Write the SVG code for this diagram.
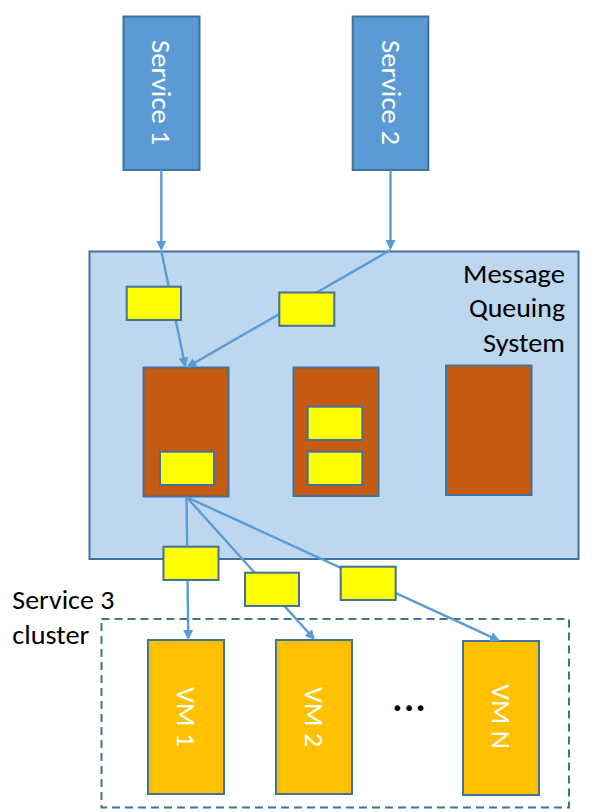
<svg xmlns="http://www.w3.org/2000/svg" width="598" height="812" viewBox="0 0 598 812">
<style>
.svc{fill:#5B9BD5;stroke:#41719C;stroke-width:2}
.mqs{fill:#BDD7EE;stroke:#41719C;stroke-width:2}
.queue{fill:#C55A11;stroke:#41719C;stroke-width:2}
.pkt{fill:#FFFF00;stroke:#41719C;stroke-width:2}
.vm{fill:#FFC000;stroke:#41719C;stroke-width:2}
.cluster{fill:none;stroke:#41719C;stroke-width:2;stroke-dasharray:8 5}
.conn{fill:none;stroke:#5B9BD5;stroke-width:2.4;marker-end:url(#arrow)}
.t{font-family:Carlito,Lato,'Liberation Sans',sans-serif;font-size:26px}
.w{fill:#FFFFFF}
.k{fill:#000000}
</style>
<defs>
<marker id="arrow" viewBox="0 0 10 10" refX="8" refY="5" markerWidth="10" markerHeight="10" markerUnits="userSpaceOnUse" orient="auto">
<path d="M0,0 L10,5 L0,10 z" fill="#5B9BD5"/>
</marker>
</defs>

<g id="mqs">
<rect class="mqs" x="89.5" y="251.5" width="489" height="307.5"/>
<text class="t k" text-anchor="end" x="565" y="283" textLength="102" lengthAdjust="spacingAndGlyphs">Message</text>
<text class="t k" text-anchor="end" x="565" y="317" textLength="96" lengthAdjust="spacingAndGlyphs">Queuing</text>
<text class="t k" text-anchor="end" x="565" y="352" textLength="82" lengthAdjust="spacingAndGlyphs">System</text>
</g>

<g id="service1">
<rect class="svc" x="123.5" y="16.5" width="76" height="153.5"/>
<text class="t w" transform="translate(161.4,92.5) rotate(90)" text-anchor="middle" x="0" y="9" textLength="105" lengthAdjust="spacingAndGlyphs">Service 1</text>
</g>
<g id="service2">
<rect class="svc" x="352.7" y="16.5" width="75.6" height="153.5"/>
<text class="t w" transform="translate(390.5,92.5) rotate(90)" text-anchor="middle" x="0" y="9" textLength="105" lengthAdjust="spacingAndGlyphs">Service 2</text>
</g>

<g id="queue1"><rect class="queue" x="143.5" y="367.5" width="85" height="129"/></g>
<g id="queue2"><rect class="queue" x="293.5" y="367.5" width="85" height="128.5"/></g>
<g id="queue3"><rect class="queue" x="446" y="365.5" width="85.5" height="129.5"/></g>

<g id="cluster">
<rect class="cluster" x="101.5" y="619" width="467.5" height="188.5"/>
<text class="t k" x="12.3" y="609.3" textLength="102" lengthAdjust="spacingAndGlyphs">Service 3</text>
<text class="t k" x="12.3" y="644.3" textLength="77" lengthAdjust="spacingAndGlyphs">cluster</text>
<text class="t k" style="font-size:38px;font-weight:bold" text-anchor="middle" x="397.3 409 420.5" y="710.5">...</text>
</g>

<g id="vm1">
<rect class="vm" x="148" y="640" width="76" height="154"/>
<text class="t w" transform="translate(186,717) rotate(90)" text-anchor="middle" x="0" y="9" textLength="60" lengthAdjust="spacingAndGlyphs">VM 1</text>
</g>
<g id="vm2">
<rect class="vm" x="276" y="640" width="76" height="154"/>
<text class="t w" transform="translate(314,717) rotate(90)" text-anchor="middle" x="0" y="9" textLength="60" lengthAdjust="spacingAndGlyphs">VM 2</text>
</g>
<g id="vmN">
<rect class="vm" x="463" y="641" width="76" height="154"/>
<text class="t w" transform="translate(500.5,716.5) rotate(90)" text-anchor="middle" x="0" y="9" textLength="65" lengthAdjust="spacingAndGlyphs">VM N</text>
</g>

<g id="connectors">
<line class="conn" x1="161.3" y1="170" x2="161.3" y2="249"/>
<line class="conn" x1="161.3" y1="251" x2="185.1" y2="365.5"/>
<line class="conn" x1="390.5" y1="170" x2="390.5" y2="248"/>
<line class="conn" x1="390.5" y1="250" x2="188.2" y2="366.5"/>
<line class="conn" x1="186.5" y1="497" x2="188.28" y2="638"/>
<line class="conn" x1="186.5" y1="497" x2="313.7" y2="638.5"/>
<line class="conn" x1="186.5" y1="497" x2="498.2" y2="640.2"/>
</g>

<g id="packet1"><rect class="pkt" x="126.7" y="286.7" width="54.3" height="33.3"/></g>
<g id="packet2"><rect class="pkt" x="279.3" y="292.5" width="55" height="33.3"/></g>
<g id="packet3"><rect class="pkt" x="160" y="451.7" width="54" height="33.3"/></g>
<g id="packet4"><rect class="pkt" x="307.7" y="406.7" width="54.6" height="33.3"/></g>
<g id="packet5"><rect class="pkt" x="307.7" y="451.7" width="54.6" height="33.3"/></g>
<g id="packet6"><rect class="pkt" x="163.5" y="546.7" width="55" height="33.3"/></g>
<g id="packet7"><rect class="pkt" x="245" y="572.7" width="54" height="33.3"/></g>
<g id="packet8"><rect class="pkt" x="340.7" y="566.7" width="55" height="33.3"/></g>
</svg>
